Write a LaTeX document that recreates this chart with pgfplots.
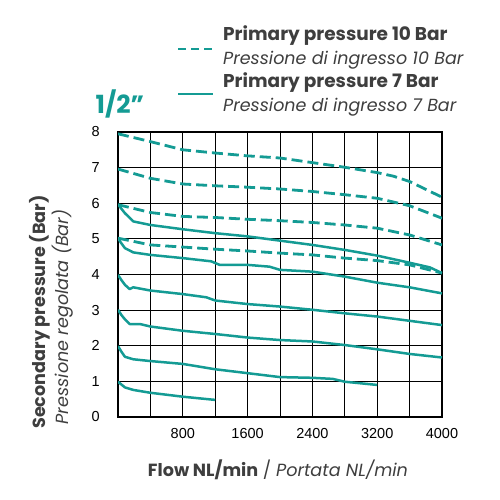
\documentclass[border=0pt]{standalone}
\usepackage{fontspec}
\setmainfont{Poppins}
\newfontfamily\arialfont{Liberation Sans}
\usepackage{pgfplots}
\pgfplotsset{compat=1.18}
\definecolor{teal}{RGB}{20,155,148}
\definecolor{txt}{RGB}{62,62,62}
\begin{document}
\begin{tikzpicture}[x=1pt,y=1pt]
\path[use as bounding box] (-118,-83) rectangle (382,417);
\begin{axis}[
  at={(0,0)}, anchor=south west,
  scale only axis, width=324pt, height=285pt,
  xmin=0, xmax=4000, ymin=0, ymax=8,
  xtick={800,1600,2400,3200,4000},
  minor xtick={0,400,...,4000},
  ytick={0,1,...,8},
  grid=both,
  major grid style={black, line width=0.9pt},
  minor grid style={black, line width=0.9pt},
  axis line style={black, line width=1.2pt},
  major tick length=0pt, minor tick length=0pt,
  /pgf/number format/assume math mode=true,
  /pgf/number format/1000 sep={},
  tick label style={font=\arialfont\fontsize{14.5}{16}\selectfont, black, inner sep=0pt},
  xticklabel style={anchor=north, yshift=-11.5pt},
  yticklabel style={anchor=east, xshift=-18pt},
]
% Primary pressure 10 bar
\addplot[teal, line width=2.8pt, dash pattern=on 11pt off 5pt] coordinates {(0,7.95)(400,7.73)(800,7.50)(1200,7.41)(1600,7.33)(2000,7.27)(2400,7.14)(2800,7.01)(3200,6.86)(3400,6.76)(3600,6.61)(4000,6.17)};
\addplot[teal, line width=2.8pt, dash pattern=on 11pt off 5pt] coordinates {(0,6.96)(400,6.70)(800,6.54)(1200,6.49)(1600,6.45)(2000,6.40)(2400,6.33)(2800,6.24)(3200,6.14)(3600,5.93)(4000,5.58)};
\addplot[teal, line width=2.8pt, dash pattern=on 11pt off 5pt] coordinates {(0,5.96)(400,5.74)(800,5.63)(1200,5.60)(1600,5.55)(2000,5.51)(2400,5.46)(2800,5.39)(3200,5.30)(3600,5.11)(4000,4.83)};
\addplot[teal, line width=2.8pt, dash pattern=on 11pt off 5pt] coordinates {(0,5.02)(400,4.83)(800,4.77)(1200,4.71)(1600,4.66)(2000,4.60)(2400,4.55)(2800,4.46)(3200,4.39)(3600,4.27)(4000,4.04)};
% Primary pressure 7 bar
\addplot[teal, line width=2.5pt, line join=round] coordinates {(0,5.97)(40,5.85)(86,5.72)(189,5.49)(400,5.39)(800,5.27)(1200,5.16)(1600,5.07)(2000,4.95)(2400,4.83)(2800,4.69)(3200,4.53)(3600,4.33)(3850,4.20)(4000,4.04)};
\addplot[teal, line width=2.5pt, line join=round] coordinates {(0,5.02)(40,4.88)(86,4.74)(189,4.62)(400,4.55)(800,4.46)(1150,4.37)(1255,4.27)(1600,4.27)(1870,4.22)(2000,4.13)(2400,4.08)(2800,3.94)(3200,3.77)(3600,3.64)(4000,3.47)};
\addplot[teal, line width=2.5pt, line join=round] coordinates {(0,3.99)(40,3.85)(86,3.71)(144,3.59)(189,3.64)(400,3.55)(800,3.45)(1090,3.36)(1200,3.27)(1600,3.17)(2000,3.10)(2400,3.01)(2800,2.91)(3200,2.82)(3600,2.70)(4000,2.58)};
\addplot[teal, line width=2.5pt, line join=round] coordinates {(0,3.01)(40,2.87)(86,2.74)(144,2.61)(270,2.61)(400,2.54)(800,2.42)(1200,2.33)(1600,2.23)(2000,2.16)(2400,2.12)(2800,2.02)(3200,1.90)(3600,1.77)(4000,1.67)};
\addplot[teal, line width=2.5pt, line join=round] coordinates {(0,1.99)(40,1.84)(86,1.69)(189,1.62)(400,1.57)(800,1.49)(1200,1.34)(1600,1.23)(2000,1.12)(2400,1.10)(2650,1.07)(2800,0.99)(3200,0.90)};
\addplot[teal, line width=2.5pt, line join=round] coordinates {(0,0.99)(86,0.83)(189,0.76)(400,0.68)(800,0.57)(1200,0.48)};
\end{axis}
% axis titles
\node[rotate=90, txt, font=\bfseries\fontsize{17.6}{20}\selectfont] at (-78,105) {Secondary pressure (Bar)};
\node[rotate=90, txt, font=\itshape\fontsize{17.6}{20}\selectfont] at (-55,100) {Pressione regolata (Bar)};
\node[txt, font=\fontsize{17.6}{20}\selectfont] at (160,-53) {\textbf{Flow NL/min} / \textit{Portata NL/min}};
% title
\node[teal, font=\bfseries\fontsize{25}{28}\selectfont] at (2,313.5) {1/2\char"201D};
% legend
\draw[teal, line width=2.8pt, dash pattern=on 8pt off 5pt] (60,368) -- (95,368);
\draw[teal, line width=2.5pt] (60,323) -- (95,323);
\node[anchor=base west, inner sep=0pt, txt, font=\bfseries\fontsize{18.5}{20}\selectfont] at (105,376.5) {Primary pressure 10 Bar};
\node[anchor=base west, inner sep=0pt, txt, font=\itshape\fontsize{17.5}{20}\selectfont] at (105,352.5) {Pressione di ingresso 10 Bar};
\node[anchor=base west, inner sep=0pt, txt, font=\bfseries\fontsize{18.5}{20}\selectfont] at (105,329) {Primary pressure 7 Bar};
\node[anchor=base west, inner sep=0pt, txt, font=\itshape\fontsize{17.5}{20}\selectfont] at (105,305.5) {Pressione di ingresso 7 Bar};
\end{tikzpicture}
\end{document}
